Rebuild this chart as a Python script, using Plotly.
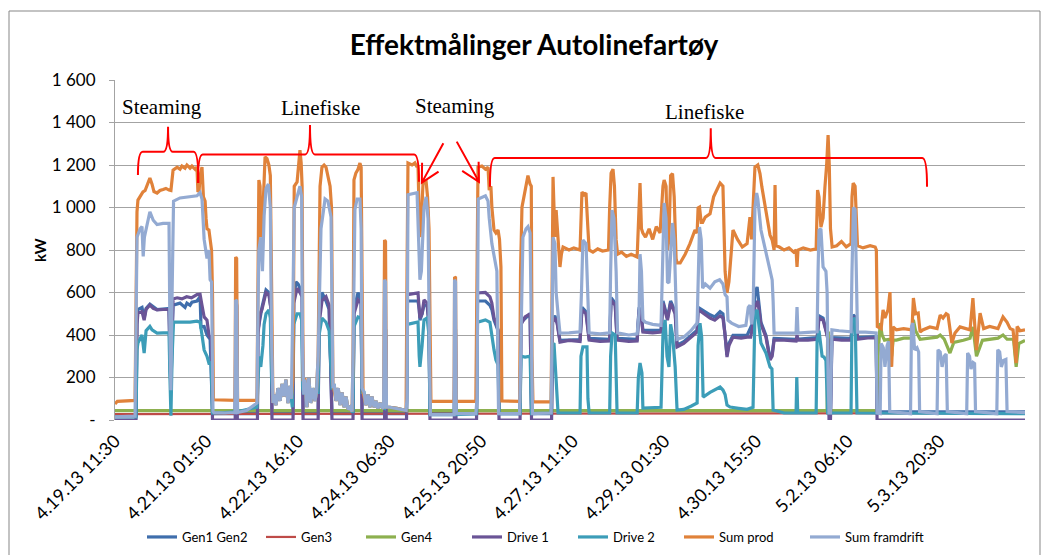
import math
import plotly.graph_objects as go
from datetime import datetime

# ---------------- data ----------------
TITLE = "Effektmålinger Autolinefartøy"
Y_TITLE = "kW"
X_TICK_LABELS = ["4.19.13 11:30", "4.21.13 01:50", "4.22.13 16:10", "4.24.13 06:30",
                 "4.25.13 20:50", "4.27.13 11:10", "4.29.13 01:30", "4.30.13 15:50",
                 "5.2.13 06:10", "5.3.13 20:30"]
Y_TICK_VALUES = [0, 200, 400, 600, 800, 1000, 1200, 1400, 1600]
Y_TICK_LABELS = ["-", "200", "400", "600", "800", "1 000", "1 200", "1 400", "1 600"]
X_END_HOURS = 380.8   # hours after first sample (end of record)

SERIES_NAMES = ["Gen1 Gen2", "Gen3", "Gen4", "Drive 1", "Drive 2", "Sum prod", "Sum framdrift"]
SERIES_COLORS = ["#3F6EAC", "#BE4B48", "#8DB04F", "#6A5496", "#3C9DB8", "#E0823A", "#93AAD2"]

# (hours since 4.19.13 11:30, kW)
GEN1_GEN2 = [(0, 20), (8.8, 20), (9.2, 480), (9.6, 520), (11.3, 530), (12.2, 480), (13.0, 525), (14.6, 545),
             (17.6, 520), (22.6, 525), (23.0, 300), (23.4, 130), (23.9, 400), (24.3, 540), (27.2, 550),
             (29.3, 530), (30.1, 550), (31.4, 540), (32.2, 555), (34.3, 560), (35.6, 580), (36.0, 438),
             (37.3, 440), (38.5, 400), (39.8, 380), (40.8, 30), (50.3, 30), (50.6, 540), (50.9, 540),
             (51.2, 30), (59.6, 30), (59.8, 420), (61.5, 530), (63.2, 612), (64.4, 600), (65.3, 520),
             (65.7, 30), (74.5, 30), (74.8, 560), (75.7, 650), (76.6, 640), (78.3, 600), (78.7, 30),
             (85.0, 30), (85.4, 480), (86.6, 600), (88.3, 560), (89.6, 520), (90.8, 30), (99.6, 30),
             (100.0, 520), (101.7, 600), (103.0, 560), (103.4, 30), (112.8, 30), (113.0, 420), (113.3, 420),
             (113.5, 30), (122.0, 30), (122.4, 560), (126.8, 560), (127.3, 520), (127.6, 470), (128.5, 500),
             (129.3, 540), (130.6, 540), (131.4, 450), (131.8, 30), (142.0, 30), (142.2, 420), (142.5, 420),
             (142.7, 30), (151.3, 30), (151.7, 560), (155.0, 560), (156.9, 540), (157.7, 520), (158.6, 470),
             (159.4, 450), (160.3, 420), (160.7, 30), (169.5, 30), (169.9, 460), (173.7, 500), (174.3, 30),
             (182.7, 30), (183.1, 470), (184.1, 490), (185.0, 460), (186.2, 375), (194.6, 378), (195.4, 530),
             (197.1, 510), (198.4, 384), (207.0, 380), (207.6, 575), (209.3, 550), (210.1, 384), (218.5, 380),
             (219.3, 530), (220.3, 490), (220.9, 422), (228.5, 422), (229.3, 560), (231.2, 480), (232.5, 560),
             (234.4, 510), (235.2, 352), (238.0, 368), (241.0, 398), (243.6, 422), (244.0, 530), (245.3, 520),
             (246.1, 515), (249.0, 495), (251.0, 485), (253.2, 510), (254.4, 500), (255.3, 410), (256.1, 305),
             (256.9, 360), (258.6, 398), (264.5, 398), (267.0, 460), (267.8, 600), (268.7, 626), (270.3, 460),
             (272.4, 398), (274.1, 290), (275.0, 310), (275.8, 384), (285.0, 380), (293.8, 388), (294.6, 490),
             (296.3, 480), (297.5, 430), (298.4, 384), (298.8, 30), (299.4, 30), (300.0, 388), (308.0, 384),
             (308.9, 495), (310.3, 480), (310.7, 388), (318.5, 392), (318.9, 38), (380.8, 38)]

GEN3 = [(0, 28), (120.0, 30), (250.0, 32), (318.9, 30), (380.8, 32)]

GEN4 = [(0, 44), (298.0, 44), (298.2, 409), (298.6, 409), (298.8, 44), (318.9, 44), (319.3, 300),
        (320.2, 456), (321.0, 400), (322.0, 376), (324.0, 380), (325.0, 300), (325.6, 376), (327.0, 376),
        (330.0, 385), (333.5, 385), (334.1, 471), (335.0, 420), (336.9, 380), (340.0, 385), (344.0, 390),
        (345.3, 400), (347.0, 380), (349.4, 315), (351.0, 365), (355.0, 375), (357.8, 385), (359.0, 438),
        (360.5, 300), (363.0, 375), (366.0, 380), (369.5, 385), (371.6, 400), (373.3, 380), (376.0, 380),
        (377.1, 250), (378.2, 360), (380.8, 374)]

DRIVE_1 = [(0, 0), (8.8, 0), (9.2, 450), (9.6, 503), (11.3, 510), (12.2, 470), (13.0, 520), (14.6, 541),
           (16.0, 525), (17.6, 518), (20.1, 520), (22.6, 520), (23.0, 300), (23.4, 130), (23.9, 400),
           (24.3, 570), (26.0, 575), (28.0, 570), (30.0, 580), (32.0, 575), (34.3, 590), (35.6, 592),
           (36.4, 540), (37.3, 485), (38.5, 470), (39.3, 400), (39.8, 390), (40.4, 380), (40.8, 0),
           (50.3, 0), (50.6, 540), (50.9, 540), (51.2, 0), (59.6, 0), (59.8, 400), (60.7, 500), (61.5, 520),
           (62.4, 560), (63.2, 600), (64.4, 590), (65.3, 520), (65.7, 0), (74.5, 0), (74.8, 550), (76.2, 620),
           (77.4, 600), (78.3, 580), (78.7, 0), (85.0, 0), (85.4, 450), (86.6, 560), (88.3, 580), (89.6, 540),
           (90.8, 0), (99.6, 0), (100.0, 500), (101.7, 565), (103.0, 550), (103.4, 0), (112.8, 0),
           (113.0, 400), (113.3, 400), (113.5, 0), (122.0, 0), (122.4, 590), (126.8, 598), (127.3, 520),
           (127.6, 480), (128.5, 500), (129.3, 565), (130.6, 550), (131.4, 450), (131.8, 0), (142.0, 0),
           (142.2, 400), (142.5, 400), (142.7, 0), (151.3, 0), (151.7, 598), (155.0, 600), (156.9, 580),
           (157.7, 550), (158.6, 480), (159.4, 460), (160.3, 424), (160.7, 0), (169.5, 0), (169.9, 450),
           (171.6, 485), (173.7, 500), (174.3, 0), (182.7, 0), (183.1, 460), (184.1, 480), (185.0, 456),
           (186.2, 367), (190.0, 375), (194.6, 370), (195.4, 518), (197.1, 500), (198.4, 376), (203.0, 370),
           (207.0, 372), (207.6, 565), (209.3, 540), (210.1, 376), (215.0, 370), (218.5, 372), (219.3, 520),
           (220.3, 480), (220.9, 414), (225.0, 410), (228.5, 414), (229.3, 550), (231.2, 470), (232.5, 550),
           (234.4, 500), (235.2, 344), (238.0, 360), (241.0, 390), (243.6, 414), (244.0, 520), (245.3, 510),
           (246.1, 503), (249.0, 480), (251.0, 470), (253.2, 490), (254.4, 480), (255.3, 400), (256.1, 296),
           (256.9, 350), (258.6, 390), (262.0, 385), (264.5, 390), (266.0, 390), (267.0, 450), (267.8, 532),
           (269.0, 560), (270.3, 450), (272.4, 390), (274.1, 282), (275.0, 300), (275.8, 376), (280.0, 376),
           (285.0, 372), (285.4, 400), (285.8, 376), (290.0, 376), (293.8, 380), (294.6, 480), (296.3, 470),
           (297.5, 420), (298.4, 376), (298.8, 0), (299.4, 0), (300.0, 380), (304.0, 376), (308.0, 376),
           (308.9, 485), (310.3, 470), (310.7, 380), (315.0, 386), (318.5, 386), (318.9, 0), (380.8, 0)]

DRIVE_2 = [(0, 15), (8.8, 15), (9.2, 330), (9.6, 362), (11.3, 400), (12.2, 315), (13.0, 420), (14.6, 440),
           (15.5, 424), (17.6, 409), (20.1, 410), (22.6, 410), (23.0, 200), (23.4, 20), (23.9, 300),
           (24.5, 461), (27.2, 461), (31.4, 461), (34.3, 465), (35.6, 460), (36.4, 400), (37.3, 329),
           (38.5, 300), (39.3, 268), (40.2, 270), (40.8, 33), (46.0, 35), (50.3, 40), (51.5, 40), (59.4, 60),
           (59.8, 200), (60.3, 300), (61.0, 250), (61.9, 350), (62.4, 450), (63.2, 500), (64.4, 518),
           (65.0, 480), (65.5, 200), (66.1, 80), (66.6, 120), (67.4, 70), (68.2, 150), (69.1, 90), (69.9, 170),
           (70.7, 110), (71.5, 190), (72.4, 80), (73.2, 160), (73.8, 100), (74.2, 60), (74.8, 450), (76.2, 500),
           (77.4, 500), (78.1, 470), (78.5, 150), (79.0, 120), (79.5, 190), (80.3, 60), (81.1, 200), (81.9, 80),
           (82.8, 150), (83.7, 90), (84.3, 130), (85.0, 130), (85.4, 400), (86.6, 480), (88.3, 460),
           (89.6, 420), (90.8, 150), (91.2, 150), (91.7, 170), (92.5, 90), (93.4, 150), (94.2, 70), (95.0, 130),
           (95.9, 60), (96.7, 110), (97.5, 50), (98.3, 60), (99.2, 40), (99.6, 40), (100.0, 440), (101.7, 485),
           (103.0, 480), (103.4, 130), (104.2, 130), (105.0, 70), (105.9, 120), (106.7, 60), (107.5, 110),
           (108.4, 60), (109.2, 90), (110.0, 55), (110.9, 80), (111.7, 60), (112.4, 55), (112.8, 55),
           (113.0, 250), (113.3, 250), (113.5, 60), (115.0, 60), (118.0, 55), (121.0, 50), (122.0, 45),
           (122.4, 450), (126.8, 461), (127.3, 300), (127.6, 250), (128.5, 350), (129.3, 471), (130.6, 480),
           (131.4, 400), (131.8, 25), (142.0, 25), (142.2, 250), (142.5, 250), (142.7, 25), (151.3, 30),
           (151.7, 460), (155.0, 471), (156.9, 460), (157.7, 390), (158.6, 330), (159.4, 282), (160.3, 260),
           (160.7, 30), (169.5, 30), (169.9, 300), (171.6, 296), (173.7, 300), (174.3, 30), (182.5, 33),
           (182.9, 350), (183.7, 362), (184.6, 200), (185.4, 33), (194.6, 33), (195.0, 300), (195.8, 344),
           (197.5, 344), (197.9, 100), (198.4, 33), (207.0, 33), (207.4, 300), (208.0, 409), (209.3, 400),
           (210.1, 33), (218.5, 33), (219.0, 200), (219.7, 268), (220.5, 221), (220.9, 56), (228.5, 60),
           (229.3, 400), (230.2, 471), (231.0, 300), (231.8, 250), (232.5, 450), (233.3, 400), (234.4, 250),
           (235.2, 47), (238.0, 50), (241.0, 65), (243.6, 80), (244.0, 350), (244.8, 456), (245.5, 390),
           (246.1, 108), (249.0, 130), (251.0, 140), (253.2, 155), (254.4, 141), (255.3, 120), (256.1, 70),
           (257.4, 61), (261.0, 55), (264.5, 50), (267.0, 60), (267.8, 503), (268.7, 518), (270.3, 362),
           (272.4, 315), (274.1, 250), (274.9, 240), (275.4, 47), (280.0, 33), (285.0, 33), (285.3, 202),
           (285.7, 33), (293.4, 33), (293.8, 376), (294.6, 420), (295.9, 300), (296.7, 296), (297.5, 280),
           (298.2, 33), (308.0, 33), (308.4, 471), (309.7, 480), (310.5, 33), (318.9, 33), (380.8, 30)]

SUM_PROD = [(0, 75), (1.0, 88), (8.4, 92), (8.8, 500), (9.2, 980), (9.6, 1035), (10.5, 1050), (11.3, 1060),
            (11.7, 1073), (12.6, 1080), (13.4, 1100), (14.6, 1139), (15.5, 1110), (16.3, 1075), (17.6, 1068),
            (18.8, 1080), (20.1, 1085), (21.3, 1090), (22.6, 1082), (23.4, 1080), (24.3, 1176), (25.1, 1185),
            (26.0, 1190), (27.2, 1180), (28.0, 1195), (29.3, 1185), (30.1, 1200), (31.4, 1185), (32.2, 1195),
            (33.5, 1180), (34.3, 1190), (34.7, 1073), (35.2, 1080), (35.6, 1150), (36.4, 1190), (37.0, 1050),
            (37.7, 1030), (38.1, 950), (38.5, 900), (39.3, 894), (39.8, 860), (40.4, 800), (40.8, 600),
            (41.2, 95), (50.2, 92), (50.5, 767), (50.9, 760), (51.3, 92), (59.4, 92), (59.8, 700),
            (60.2, 1129), (60.7, 1100), (61.1, 861), (61.5, 870), (62.0, 1000), (62.8, 1238), (63.6, 1230),
            (64.4, 1200), (65.0, 1150), (65.5, 600), (66.1, 80), (66.6, 120), (67.4, 70), (68.2, 150),
            (69.1, 90), (69.9, 170), (70.7, 110), (71.5, 190), (72.4, 80), (73.2, 160), (73.8, 100),
            (74.5, 200), (75.0, 1100), (76.2, 1120), (77.0, 1200), (77.4, 1270), (77.9, 1210), (78.3, 1100),
            (78.7, 190), (79.5, 190), (80.3, 60), (81.1, 200), (81.9, 80), (82.8, 150), (83.7, 90), (84.3, 130),
            (85.0, 300), (85.8, 1100), (86.6, 1190), (87.5, 1200), (88.3, 1190), (89.1, 1150), (90.0, 1100),
            (90.6, 1000), (91.0, 300), (91.2, 170), (92.5, 90), (93.4, 150), (94.2, 70), (95.0, 130),
            (95.9, 60), (96.7, 110), (97.5, 50), (98.3, 60), (99.2, 40), (99.6, 300), (100.0, 1130),
            (100.8, 1162), (101.7, 1180), (102.5, 1209), (103.0, 1190), (103.4, 300), (103.8, 130),
            (105.0, 70), (105.9, 120), (106.7, 60), (107.5, 110), (108.4, 60), (109.2, 90), (110.0, 55),
            (110.9, 80), (111.7, 60), (112.4, 55), (112.8, 847), (113.2, 840), (113.6, 60), (115.0, 60),
            (118.0, 55), (121.0, 50), (121.8, 45), (122.2, 700), (122.6, 1209), (124.3, 1200), (125.5, 1210),
            (126.4, 1190), (126.8, 1200), (127.2, 1000), (127.6, 861), (128.2, 950), (128.9, 1115),
            (130.2, 1120), (130.8, 1050), (131.4, 900), (131.8, 300), (132.2, 88), (141.9, 88), (142.1, 673),
            (142.5, 670), (142.8, 88), (151.0, 88), (151.5, 700), (151.9, 1190), (153.5, 1195), (155.0, 1180),
            (156.1, 1190), (156.6, 1082), (157.3, 1100), (157.7, 1002), (158.6, 894), (159.4, 880),
            (160.3, 894), (160.9, 850), (161.5, 720), (161.9, 90), (169.3, 88), (169.7, 700), (170.3, 1002),
            (171.2, 1050), (172.0, 1090), (172.8, 1150), (173.7, 1110), (174.2, 1100), (174.5, 300),
            (174.9, 85), (182.5, 85), (182.9, 800), (183.3, 1144), (183.7, 1000), (184.1, 861), (184.6, 988),
            (185.4, 850), (186.2, 720), (186.8, 780), (187.5, 814), (190.0, 800), (192.0, 810), (194.6, 800),
            (195.0, 1000), (195.4, 1073), (196.3, 1060), (197.1, 1068), (197.9, 900), (198.4, 800),
            (200.0, 790), (202.0, 805), (204.0, 795), (206.5, 800), (207.0, 1000), (207.6, 1162),
            (208.4, 1180), (209.0, 1100), (209.7, 850), (210.3, 780), (212.0, 790), (214.0, 770),
            (216.0, 780), (218.5, 767), (219.3, 1000), (219.7, 1115), (220.3, 900), (220.9, 880),
            (222.0, 860), (223.5, 900), (225.0, 850), (226.5, 910), (228.1, 880), (229.3, 1100),
            (229.8, 1129), (230.6, 1100), (231.2, 800), (231.8, 850), (232.5, 1150), (233.3, 1160),
            (234.0, 1050), (234.8, 760), (235.2, 739), (236.5, 739), (238.6, 780), (240.6, 830), (242.7, 894),
            (243.6, 880), (244.0, 998), (244.6, 1002), (245.3, 930), (245.9, 930), (247.0, 955), (249.0, 970),
            (250.5, 1050), (252.0, 1082), (253.2, 1115), (254.4, 1100), (255.3, 700), (256.1, 598),
            (256.9, 650), (258.6, 894), (260.5, 850), (262.5, 814), (264.5, 830), (265.7, 955), (266.4, 850),
            (267.0, 1000), (267.8, 1190), (269.0, 1200), (269.9, 1160), (270.7, 1096), (272.4, 974),
            (274.1, 870), (275.0, 847), (275.8, 800), (276.2, 1106), (276.6, 820), (278.0, 814), (280.0, 800),
            (282.0, 810), (284.0, 790), (285.0, 800), (285.4, 720), (285.8, 800), (288.0, 810), (291.0, 800),
            (293.4, 805), (294.0, 1082), (294.6, 1050), (295.4, 908), (296.3, 950), (297.1, 1100),
            (297.8, 1200), (298.4, 1341), (298.9, 1200), (299.4, 900), (300.1, 814), (302.0, 820),
            (304.0, 840), (306.0, 815), (308.0, 830), (308.4, 1050), (308.9, 1115), (309.7, 1100),
            (310.3, 900), (310.7, 820), (313.0, 810), (316.0, 820), (318.1, 814), (318.6, 800), (319.0, 440),
            (320.6, 430), (321.4, 518), (322.2, 480), (323.5, 520), (324.3, 602), (325.0, 250), (325.6, 438),
            (327.0, 424), (330.0, 430), (333.5, 424), (334.1, 574), (335.0, 500), (336.1, 503), (336.9, 414),
            (338.0, 424), (341.0, 438), (344.0, 430), (345.3, 494), (346.5, 480), (347.8, 500), (348.6, 494),
            (350.2, 362), (351.5, 409), (353.6, 438), (356.0, 430), (357.8, 424), (359.0, 574), (360.5, 329),
            (362.0, 503), (363.5, 430), (366.0, 440), (369.5, 430), (371.6, 485), (373.3, 460), (374.6, 430),
            (375.8, 424), (377.1, 268), (377.5, 440), (378.7, 420), (380.8, 424)]

SUM_FRAMDRIFT = [(0, 15), (8.4, 18), (9.2, 860), (10.5, 900), (11.3, 910), (11.8, 770), (12.3, 860), (13.0, 900),
                 (14.6, 980), (16.0, 940), (17.6, 920), (20.1, 925), (22.6, 925), (23.0, 400), (23.4, 140),
                 (23.9, 600), (24.5, 1030), (27.2, 1045), (31.4, 1050), (34.3, 1055), (35.6, 1070), (36.4, 1040),
                 (37.3, 850), (38.5, 760), (39.3, 800), (39.8, 660), (40.4, 650), (41.0, 40), (41.4, 35),
                 (46.0, 33), (50.2, 35), (50.5, 565), (50.9, 560), (51.3, 35), (55.0, 45), (59.4, 80),
                 (59.8, 500), (60.2, 800), (61.0, 860), (61.7, 700), (62.4, 960), (63.2, 1090), (64.2, 1110),
                 (65.0, 1000), (65.5, 400), (66.1, 80), (66.6, 120), (67.4, 70), (68.2, 150), (69.1, 90),
                 (69.9, 170), (70.7, 110), (71.5, 190), (72.4, 80), (73.2, 160), (73.8, 100), (74.5, 600),
                 (75.0, 1000), (76.2, 1050), (77.4, 1100), (78.1, 1050), (78.5, 300), (79.0, 120), (79.5, 190),
                 (80.3, 60), (81.1, 200), (81.9, 80), (82.8, 150), (83.7, 90), (84.3, 130), (85.0, 300),
                 (86.2, 900), (87.9, 1040), (89.1, 1030), (90.4, 955), (90.9, 300), (91.2, 150), (91.7, 170),
                 (92.5, 90), (93.4, 150), (94.2, 70), (95.0, 130), (95.9, 60), (96.7, 110), (97.5, 50), (98.3, 60),
                 (99.2, 40), (99.6, 300), (100.4, 990), (101.3, 1040), (102.5, 1040), (103.0, 900), (103.4, 150),
                 (104.2, 130), (105.0, 70), (105.9, 120), (106.7, 60), (107.5, 110), (108.4, 60), (109.2, 90),
                 (110.0, 55), (110.9, 80), (111.7, 60), (112.4, 55), (112.8, 660), (113.2, 650), (113.6, 60),
                 (115.0, 60), (118.0, 55), (121.0, 50), (121.8, 45), (122.2, 100), (122.6, 1060), (126.4, 1070),
                 (127.0, 900), (127.6, 660), (128.2, 700), (129.3, 1000), (130.2, 1050), (131.0, 950),
                 (131.6, 300), (132.0, 25), (141.9, 25), (142.1, 660), (142.5, 650), (142.8, 30), (151.0, 30),
                 (151.5, 100), (152.0, 1040), (155.0, 1055), (156.1, 1030), (156.6, 950), (157.7, 830),
                 (158.2, 800), (159.8, 700), (160.2, 300), (160.5, 30), (169.3, 30), (169.7, 300), (170.7, 860),
                 (172.0, 900), (172.8, 910), (173.7, 880), (174.3, 300), (174.7, 30), (182.5, 33), (182.9, 500),
                 (183.3, 860), (184.1, 830), (184.6, 600), (185.4, 500), (186.2, 409), (190.0, 410), (194.6, 415),
                 (195.2, 600), (195.8, 847), (197.1, 830), (197.9, 600), (198.4, 410), (203.0, 405), (207.0, 410),
                 (207.4, 700), (208.0, 988), (208.8, 950), (209.7, 700), (210.3, 410), (215.0, 400), (218.5, 405),
                 (219.3, 500), (219.7, 780), (220.3, 700), (220.9, 471), (222.0, 460), (225.0, 450), (228.5, 445),
                 (229.3, 800), (229.8, 1021), (230.6, 950), (231.2, 650), (231.8, 645), (232.5, 800), (233.3, 927),
                 (234.0, 850), (234.8, 500), (235.2, 380), (238.0, 390), (241.0, 420), (243.6, 456), (244.0, 700),
                 (244.6, 908), (245.3, 850), (245.9, 620), (247.0, 640), (249.0, 620), (251.0, 650), (253.0, 660),
                 (254.4, 640), (255.3, 590), (256.1, 579), (256.5, 470), (258.0, 456), (261.0, 440), (264.0, 445),
                 (265.0, 530), (265.7, 540), (266.4, 450), (267.0, 500), (267.8, 1000), (268.5, 1068),
                 (269.0, 1040), (270.3, 894), (272.4, 786), (274.1, 706), (275.0, 659), (275.4, 560), (275.8, 409),
                 (280.0, 409), (285.0, 409), (285.4, 532), (285.8, 409), (290.0, 412), (293.8, 415), (294.2, 700),
                 (294.6, 894), (295.4, 900), (296.3, 720), (297.5, 700), (298.0, 600), (298.4, 200), (298.8, 33),
                 (299.4, 33), (300.0, 424), (303.0, 420), (308.0, 415), (308.4, 700), (309.0, 1000), (309.7, 990),
                 (310.3, 600), (310.7, 414), (314.0, 414), (318.5, 410), (318.9, 33), (320.2, 30), (320.6, 360),
                 (321.5, 340), (322.2, 250), (323.1, 350), (323.7, 370), (324.2, 40), (332.9, 30), (333.3, 440),
                 (333.9, 456), (334.6, 330), (335.6, 340), (336.3, 320), (336.7, 40), (344.0, 30), (344.4, 330),
                 (345.3, 320), (346.1, 250), (347.0, 300), (347.8, 310), (348.3, 40), (356.4, 30), (356.8, 315),
                 (357.6, 300), (358.2, 240), (359.1, 270), (359.7, 265), (360.1, 40), (369.0, 30), (369.4, 330),
                 (370.2, 320), (370.9, 250), (371.8, 280), (372.8, 285), (373.3, 40), (380.8, 35)]

# phase annotations: (label, centre hour, kW)
PHASE_LABELS = [("Steaming", 19.7, 1473), ("Linefiske", 85.8, 1468),
                ("Steaming", 142.3, 1478), ("Linefiske", 246.5, 1450)]
# braces: (start h, end h, peak h, left-end kW, right-end kW, bar kW, peak kW)
BRACES = [(9.6, 34.9, 22.2, 1153, 1115, 1262, 1380),
          (34.7, 127.2, 81.6, 1115, 1121, 1250, 1388),
          (156.9, 339.8, 249.3, 1098, 1098, 1233, 1373)]
# arrows: (tail h, tail kW, head h, head kW)
ARROWS = [(137.4, 1302, 128.4, 1117), (143.0, 1310, 152.3, 1121)]

# ---------------- figure ----------------
W, H = 1048, 555
M = dict(l=115, r=23, t=80, b=135)
PLOT_W, PLOT_H = W - M["l"] - M["r"], H - M["t"] - M["b"]
Y_MAX = Y_TICK_VALUES[-1]

t0 = datetime.strptime(X_TICK_LABELS[0], "%m.%d.%y %H:%M")
tick_hours = [(datetime.strptime(s, "%m.%d.%y %H:%M") - t0).total_seconds() / 3600 for s in X_TICK_LABELS]

series = [GEN1_GEN2, GEN3, GEN4, DRIVE_1, DRIVE_2, SUM_PROD, SUM_FRAMDRIFT]
legend_widths = [74, 55, 61, 61, 61, 81, None]
fig = go.Figure()
for name, color, pts, lw in zip(SERIES_NAMES, SERIES_COLORS, series, legend_widths):
    xs, ys = zip(*pts)
    tr = go.Scatter(x=list(xs), y=list(ys), mode="lines", name=name,
                    line=dict(color=color, width=3.2 if name != "Gen3" else 2.2))
    if lw:
        tr.legendwidth = lw
    fig.add_trace(tr)

shapes = []
for (a, b, p, yl, yr, yh, yt) in BRACES:
    r = 2.0
    path = (f"M {a},{yl} Q {a},{yh} {a + r},{yh} L {p - r},{yh} Q {p},{yh} {p},{yt} "
            f"Q {p},{yh} {p + r},{yh} L {b - r},{yh} Q {b},{yh} {b},{yr}")
    shapes.append(dict(type="path", path=path, xref="x", yref="y",
                       line=dict(color="#FF0000", width=2)))

# arrows (line + open head), head barbs built in screen space
sx = PLOT_W / X_END_HOURS
sy = PLOT_H / Y_MAX
for (th, tk, hh, hk) in ARROWS:
    dx, dy = (th - hh) * sx, (tk - hk) * sy
    ang = math.atan2(dy, dx)
    pts = []
    for da in (math.radians(28), -math.radians(28)):
        bx = hh + 20 * math.cos(ang + da) / sx
        by = hk + 20 * math.sin(ang + da) / sy
        pts.append((bx, by))
    path = (f"M {th},{tk} L {hh},{hk} M {pts[0][0]},{pts[0][1]} L {hh},{hk} L {pts[1][0]},{pts[1][1]}")
    shapes.append(dict(type="path", path=path, xref="x", yref="y",
                       line=dict(color="#FF0000", width=2)))

# thick bottom axis band
shapes.append(dict(type="rect", xref="paper", x0=0, x1=1, yref="y", ysizemode="pixel", yanchor=0,
                   y0=-2, y1=-7, fillcolor="#8C8C8C", line=dict(width=0), layer="below"))
# outer chart border
shapes.append(dict(type="rect", xref="paper", yref="paper",
                   x0=(9 - M["l"]) / PLOT_W, x1=(1040 - M["l"]) / PLOT_W,
                   y0=-0.6, y1=(H - M["b"] - 11) / PLOT_H,
                   line=dict(color="#878787", width=1), fillcolor="rgba(0,0,0,0)", layer="below"))

annotations = []
for (txt, h, kw) in PHASE_LABELS:
    annotations.append(dict(x=h, y=kw, xref="x", yref="y", text=txt, showarrow=False,
                            font=dict(family="Liberation Serif", size=21, color="#000000")))
annotations.append(dict(x=(40 - M["l"]) / PLOT_W, y=0.5, xref="paper", yref="paper", text=f"<b>{Y_TITLE}</b>",
                        xanchor="center", yanchor="middle",
                        textangle=-90, showarrow=False, font=dict(family="Lato", size=15, color="#000")))

fig.update_layout(
    width=W, height=H,
    margin=M,
    paper_bgcolor="white", plot_bgcolor="white",
    title=dict(text=f"<b>{TITLE}</b>", x=0.5095, xanchor="center", y=0.919, yanchor="middle",
               font=dict(family="Lato", size=28, color="#000000")),
    xaxis=dict(range=[0, X_END_HOURS], tickvals=tick_hours, ticktext=X_TICK_LABELS, tickangle=-45,
               showgrid=False, zeroline=False, showline=False, ticks="", automargin=False,
               tickfont=dict(family="Lato", size=18, color="#000000"), ticklabelstandoff=6),
    yaxis=dict(range=[0, Y_MAX], tickvals=Y_TICK_VALUES, ticktext=Y_TICK_LABELS, automargin=False,
               showgrid=True, gridcolor="#A3A3A3", gridwidth=1, zeroline=False,
               showline=True, linecolor="#A3A3A3", linewidth=1, ticks="outside", ticklen=5,
               tickcolor="#A3A3A3", tickfont=dict(family="Lato", size=17, color="#000000"),
               ticklabelstandoff=10),
    legend=dict(orientation="h", xref="container", yref="container", x=142 / W, xanchor="left",
                y=1 - 537 / H, yanchor="middle",
                font=dict(family="Lato", size=13, color="#000000"), bgcolor="rgba(0,0,0,0)"),
    shapes=shapes, annotations=annotations,
)

fig.write_html("out.html", config={"displayModeBar": False},
               post_script="document.body.style.margin='0px';")
